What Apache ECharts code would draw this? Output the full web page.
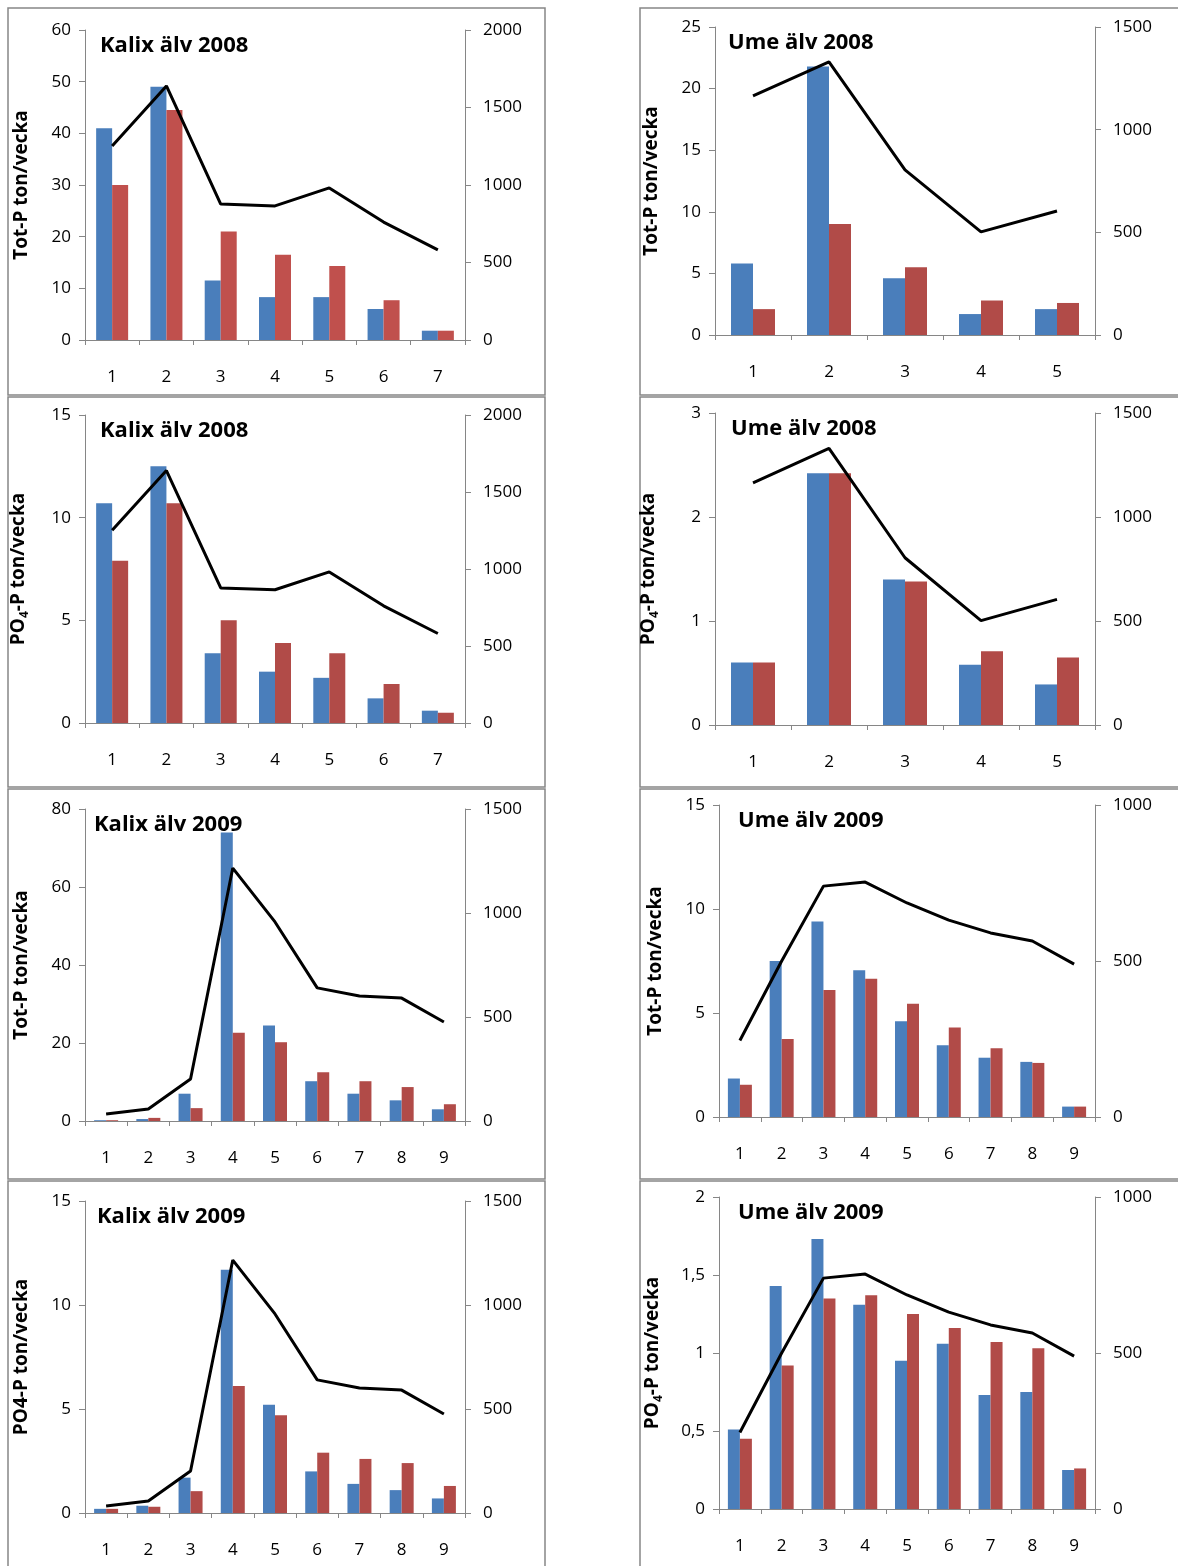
<!DOCTYPE html>
<html lang="sv">
<head>
<meta charset="UTF-8">
<title>Kalix älv / Ume älv</title>
<script src="https://cdn.jsdelivr.net/npm/echarts@6/dist/echarts.min.js"></script>
<style>
  body { margin: 0; background: #fff; font-family: 'Open Sans', 'DejaVu Sans', sans-serif; }
  #main { width: 1178px; height: 1566px; }
</style>
</head>
<body>
<div id="main"></div>
<script>
// veckor
const weeks7 = ['1','2','3','4','5','6','7'];
const weeks5 = ['1','2','3','4','5'];
const weeks9 = ['1','2','3','4','5','6','7','8','9'];

// Kalix älv 2008
const kalix08TotBlue = [41, 49, 11.5, 8.3, 8.3, 6, 1.8];
const kalix08TotRed  = [30, 44.5, 21, 16.5, 14.3, 7.7, 1.8];
const kalix08PoBlue  = [10.7, 12.5, 3.4, 2.5, 2.2, 1.2, 0.6];
const kalix08PoRed   = [7.9, 10.7, 5, 3.9, 3.4, 1.9, 0.5];
const kalix08Flow    = [1252, 1639, 877, 865, 981, 761, 581];

// Kalix älv 2009
const kalix09TotBlue = [0.2, 0.5, 7, 74, 24.5, 10.2, 7, 5.3, 3];
const kalix09TotRed  = [0.2, 0.8, 3.3, 22.6, 20.2, 12.5, 10.2, 8.7, 4.3];
const kalix09PoBlue  = [0.2, 0.35, 1.7, 11.7, 5.2, 2, 1.4, 1.1, 0.7];
const kalix09PoRed   = [0.2, 0.3, 1.05, 6.1, 4.7, 2.9, 2.6, 2.4, 1.3];
const kalix09Flow    = [34, 58, 202, 1216, 957, 640, 601, 591, 476];

// Ume älv 2008
const ume08TotBlue = [5.8, 21.8, 4.6, 1.7, 2.1];
const ume08TotRed  = [2.1, 9, 5.5, 2.8, 2.6];
const ume08PoBlue  = [0.6, 2.42, 1.4, 0.58, 0.39];
const ume08PoRed   = [0.6, 2.42, 1.38, 0.71, 0.65];
const ume08Flow    = [1164, 1330, 804, 502, 604];

// Ume älv 2009
const ume09TotBlue = [1.85, 7.5, 9.4, 7.05, 4.6, 3.45, 2.85, 2.65, 0.5];
const ume09TotRed  = [1.55, 3.75, 6.1, 6.65, 5.45, 4.3, 3.3, 2.6, 0.5];
const ume09PoBlue  = [0.51, 1.43, 1.73, 1.31, 0.95, 1.06, 0.73, 0.75, 0.25];
const ume09PoRed   = [0.45, 0.92, 1.35, 1.37, 1.25, 1.16, 1.07, 1.03, 0.26];
const ume09Flow    = [245, 500, 740, 753, 686, 631, 590, 564, 490];

const TOT = 'Tot-P ton/vecka';
const PO4 = '{a|PO}{s|4}{a|-P ton/vecka}';

const panels = [
  { title: 'Kalix älv 2008', cats: weeks7, blue: kalix08TotBlue, red: kalix08TotRed, flow: kalix08Flow,
    lmax: 60, lint: 10, rmax: 2000, rint: 500, name: TOT, box: [8, 8, 537, 387], plot: [85, 30, 380, 310], bw: 16, redColor: '#C0504D', tx: 100 },
  { title: 'Kalix älv 2008', cats: weeks7, blue: kalix08PoBlue, red: kalix08PoRed, flow: kalix08Flow,
    lmax: 15, lint: 5, rmax: 2000, rint: 500, name: PO4, box: [8, 397, 537, 390], plot: [85, 415, 380, 308], bw: 16, tx: 100 },
  { title: 'Kalix älv 2009', cats: weeks9, blue: kalix09TotBlue, red: kalix09TotRed, flow: kalix09Flow,
    lmax: 80, lint: 20, rmax: 1500, rint: 500, name: TOT, box: [8, 789, 537, 390], plot: [85, 809, 380, 312], bw: 12, tx: 94 },
  { title: 'Kalix älv 2009', cats: weeks9, blue: kalix09PoBlue, red: kalix09PoRed, flow: kalix09Flow,
    lmax: 15, lint: 5, rmax: 1500, rint: 500, name: 'PO4-P ton/vecka', box: [8, 1181, 537, 395], plot: [85, 1201, 380, 312], bw: 12, tx: 97 },
  { title: 'Ume älv 2008', cats: weeks5, blue: ume08TotBlue, red: ume08TotRed, flow: ume08Flow,
    lmax: 25, lint: 5, rmax: 1500, rint: 500, name: TOT, box: [640, 8, 545, 387], plot: [715, 27, 380, 308], bw: 22, tx: 728 },
  { title: 'Ume älv 2008', cats: weeks5, blue: ume08PoBlue, red: ume08PoRed, flow: ume08Flow,
    lmax: 3, lint: 1, rmax: 1500, rint: 500, name: PO4, box: [640, 397, 545, 390], plot: [715, 413, 380, 312], bw: 22, tx: 731 },
  { title: 'Ume älv 2009', cats: weeks9, blue: ume09TotBlue, red: ume09TotRed, flow: ume09Flow,
    lmax: 15, lint: 5, rmax: 1000, rint: 500, name: TOT, box: [640, 789, 545, 390], plot: [719, 805, 376, 312], bw: 12, tx: 738 },
  { title: 'Ume älv 2009', cats: weeks9, blue: ume09PoBlue, red: ume09PoRed, flow: ume09Flow,
    lmax: 2, lint: 0.5, rmax: 1000, rint: 500, name: PO4, box: [640, 1181, 545, 395], plot: [719, 1197, 376, 312], bw: 12, tx: 738, comma: true }
];

const grid = [], xAxis = [], yAxis = [], series = [], graphic = [];
const font = "'Open Sans', 'DejaVu Sans', sans-serif";
panels.forEach((p, i) => {
  const [gx, gy, gw, gh] = p.plot;
  grid.push({ left: gx, top: gy, width: gw, height: gh });
  xAxis.push({ type: 'category', gridIndex: i, data: p.cats,
    axisLine: { lineStyle: { color: '#868686' } }, axisTick: { show: true, length: 5, lineStyle: { color: '#868686' } },
    axisLabel: { color: '#000', fontSize: 17, margin: 29, fontFamily: font } });
  yAxis.push({ type: 'value', gridIndex: i, min: 0, max: p.lmax, interval: p.lint, splitLine: { show: false },
    axisLine: { show: true, lineStyle: { color: '#868686' } }, axisTick: { show: true, length: 6, lineStyle: { color: '#868686' } },
    axisLabel: { color: '#000', fontSize: 17, margin: 14, fontFamily: font, formatter: v => p.comma ? String(v).replace('.', ',') : String(v) },
    name: p.name, nameLocation: 'middle', nameRotate: 90, nameGap: 54,
    nameTextStyle: { color: '#000', fontSize: 19, fontWeight: 'bold', fontFamily: font,
      rich: { a: { fontSize: 19, fontWeight: 'bold', fontFamily: font }, s: { fontSize: 12, fontWeight: 'bold', verticalAlign: 'bottom', padding: [12, 0, 0, 0], fontFamily: font } } } });
  yAxis.push({ type: 'value', gridIndex: i, position: 'right', min: 0, max: p.rmax, interval: p.rint, splitLine: { show: false },
    axisLine: { show: true, lineStyle: { color: '#868686' } }, axisTick: { show: true, length: 6, lineStyle: { color: '#868686' } },
    axisLabel: { color: '#000', fontSize: 17, margin: 18, fontFamily: font, formatter: v => String(v) } });
  series.push({ type: 'bar', xAxisIndex: i, yAxisIndex: 2 * i, data: p.blue, barWidth: p.bw, barGap: '0%',
    itemStyle: { color: '#4A7EBB' } });
  series.push({ type: 'bar', xAxisIndex: i, yAxisIndex: 2 * i, data: p.red, barWidth: p.bw, barGap: '0%',
    itemStyle: { color: p.redColor || '#B14B48' } });
  series.push({ type: 'line', xAxisIndex: i, yAxisIndex: 2 * i + 1, data: p.flow, symbol: 'none',
    lineStyle: { color: '#000', width: 3 }, z: 5 });
  const [bx, by, bw, bh] = p.box;
  graphic.push({ type: 'rect', shape: { x: bx, y: by, width: bw, height: bh }, style: { fill: 'none', stroke: '#868686', lineWidth: 1.5 } });
  graphic.push({ type: 'text', x: p.tx, y: gy + 5, z: 10, style: { text: p.title, font: 'bold 22px ' + font, fill: '#000' } });
});

const chart = echarts.init(document.getElementById('main'));
chart.setOption({ animation: false, grid, xAxis, yAxis, series, graphic });
</script>
</body>
</html>
